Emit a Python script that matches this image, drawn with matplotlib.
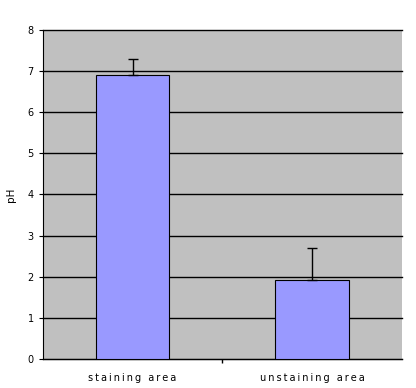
import numpy as np
import matplotlib
matplotlib.use("Agg")
import matplotlib.pyplot as plt

categorias = ["staining area", "unstaining area"]
valores = [6.9, 1.92]
errores = [0.4, 0.78]

fig = plt.figure(figsize=(4.16, 3.88), dpi=100)
ax = fig.add_axes([0.103, 0.075, 0.863, 0.848])
ax.set_facecolor("#c0c0c0")

x = np.arange(len(categorias))
ax.bar(x, valores, width=0.41, color="#9999ff", edgecolor="black", linewidth=0.8, zorder=3)
ax.errorbar(x, valores, yerr=[np.zeros(len(errores)), errores], fmt="none",
            ecolor="black", elinewidth=1, capsize=3.5, capthick=1, zorder=4)

ax.set_ylim(0, 8)
ax.set_xlim(-0.5, 1.5)
ax.set_yticks(range(0, 9))
ax.set_yticklabels([str(i) for i in range(0, 9)], fontsize=7)
ax.yaxis.grid(True, color="black", linewidth=1, clip_on=False)
ax.set_axisbelow(True)

ax.set_xticks([0.5])
ax.set_xticklabels([""])
ax.tick_params(axis="x", length=3, width=1)
ax.tick_params(axis="y", length=3, width=0.8)
# etiquetas con espaciado entre letras (espacio fino)
for xi, lab in zip(x, categorias):
    ax.text(xi, -0.35, "\u2009".join(lab), ha="center", va="top",
            fontsize=7, transform=ax.transData)

for s in ["top", "right"]:
    ax.spines[s].set_visible(False)
ax.spines["left"].set_color("black")
ax.spines["bottom"].set_color("black")
ax.set_ylabel("pH", fontsize=7.5)
ax.yaxis.set_label_coords(-0.075, 0.5)

plt.savefig("out.png", dpi=100)
